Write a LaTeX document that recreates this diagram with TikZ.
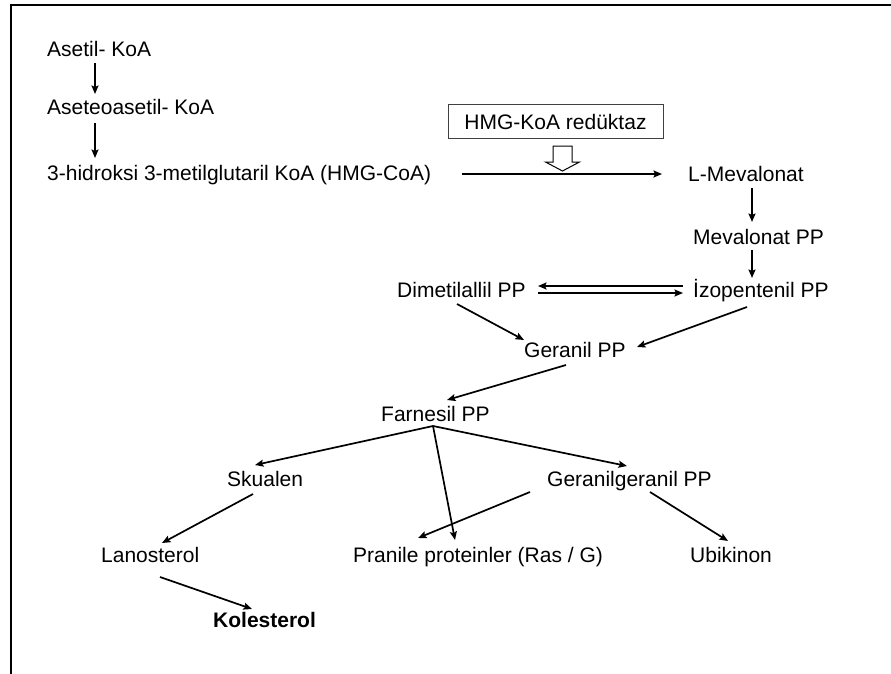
\documentclass[tikz,border=0pt]{standalone}
\usepackage{fontspec}
\setmainfont{Liberation Sans}
\usetikzlibrary{calc,arrows.meta}
\begin{document}
\begin{tikzpicture}[x=1pt,y=-1pt,
  lbl/.style={anchor=base west,inner sep=0pt,text height=15pt,text depth=4pt,
    font=\fontsize{21}{24}\selectfont},
  arr/.style={line width=1.7pt,-{Stealth[length=8.5pt,width=7pt,inset=1.5pt]}},
  enzbox/.style={draw=black!75,line width=1pt,minimum width=215pt,minimum height=34pt,
    inner sep=0pt,font=\fontsize{21}{24}\selectfont}]
\useasboundingbox (0,0) rectangle (891,674);
\fill[white] (0,0) rectangle (891,674);
% frame
\draw[line width=2.6pt] (11,674) -- (11,5) -- (891,5);
% nodes
\node[lbl] (ase) at (47,57) {Asetil- KoA};
\node[lbl] (aca) at (47,115) {Aseteoasetil- KoA};
\node[lbl] (hmg) at (47,180) {3-hidroksi 3-metilglutaril KoA (HMG-CoA)};
\node[lbl] (mev) at (688,181) {L-Mevalonat};
\node[lbl] (mpp) at (693,244) {Mevalonat PP};
\node[lbl] (ipp) at (693,297) {İzopentenil PP};
\node[lbl] (dma) at (397,297) {Dimetilallil PP};
\node[lbl] (ger) at (524,357) {Geranil PP};
\node[lbl] (far) at (381,421) {Farnesil PP};
\node[lbl] (sku) at (227,486) {Skualen};
\node[lbl] (ggp) at (547,486) {Geranilgeranil PP};
\node[lbl] (lan) at (101,562) {Lanosterol};
\node[lbl] (pra) at (353,562) {Pranile proteinler (Ras / G)};
\node[lbl] (ubi) at (690,562) {Ubikinon};
\node[lbl,font=\fontsize{21}{24}\selectfont\bfseries] (kol) at (213,627) {Kolesterol};
\node[enzbox] (enz) at (555.5,121.5) {HMG-KoA redüktaz};
% hollow block arrow
\coordinate (ha) at ($(enz.south)+(7,7)$);
\draw[line width=1pt,fill=white] ($(ha)+(-9.5,0)$) -- ($(ha)+(9.5,0)$) -- ($(ha)+(9.5,16)$)
  -- ($(ha)+(17,16)$) -- ($(ha)+(0,25)$) -- ($(ha)+(-17,16)$) -- ($(ha)+(-9.5,16)$) -- cycle;
% connectors
\draw[arr] ($(ase.base west)+(48,6)$) -- ($(aca.base west)+(48,-21)$);
\draw[arr] ($(aca.base west)+(48,8)$) -- ($(hmg.base west)+(48,-22)$);
\draw[arr] ($(mev.base west)+(-226,-7)$) -- ($(mev.base west)+(-26,-7)$);
\draw[arr] ($(mev.base west)+(64,7)$) -- ($(mpp.base west)+(59,-22)$);
\draw[arr] ($(mpp.base west)+(59,6)$) -- ($(ipp.base west)+(59,-19)$);
\draw[arr] ($(ipp.base west)+(-10,-11)$) -- ($(dma.base west)+(141,-11)$);
\draw[arr] ($(dma.base west)+(141,-4)$) -- ($(ipp.base west)+(-10,-4)$);
\draw[arr] ($(dma.base west)+(60,7)$) -- ($(ger.base west)+(0,-17)$);
\draw[arr] ($(ipp.base west)+(54,10)$) -- ($(ger.base west)+(113,-10)$);
\draw[arr] ($(ger.base west)+(42,8)$) -- ($(far.base west)+(66,-21)$);
\draw[arr] ($(far.base west)+(52,5)$) -- ($(sku.base west)+(28,-21)$);
\draw[arr] ($(far.base west)+(52,5)$) -- ($(pra.base west)+(102,-22)$);
\draw[arr] ($(far.base west)+(52,5)$) -- ($(ggp.base west)+(80,-20)$);
\draw[arr] ($(sku.base west)+(26,8)$) -- ($(lan.base west)+(61,-19)$);
\draw[arr] ($(ggp.base west)+(-17,6)$) -- ($(pra.base west)+(65,-24)$);
\draw[arr] ($(ggp.base west)+(103,6)$) -- ($(ubi.base west)+(38,-21)$);
\draw[arr] ($(lan.base west)+(59,15)$) -- ($(kol.base west)+(39,-18)$);
\end{tikzpicture}
\end{document}
